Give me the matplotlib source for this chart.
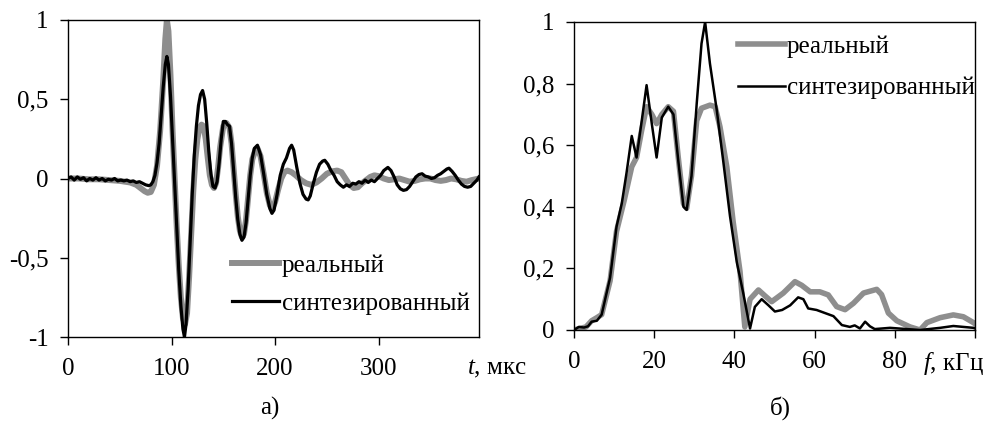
import matplotlib
matplotlib.use('Agg')
from matplotlib import pyplot as plt

# --- panel a): time signals (t in us) ---
t_real = [0, 10, 20, 30, 40, 50, 60, 66, 70, 74, 77, 80, 83, 86, 89, 92, 94, 95.5, 97, 99,
          101, 103, 105, 107, 109, 111, 113, 115, 117, 119, 121, 123, 125, 127, 129, 131, 133,
          135, 137, 139, 141, 143, 145, 147, 150, 153, 156, 158, 160, 162, 164, 166, 168, 170,
          172, 174, 176, 178, 181, 183, 186, 189, 192, 195, 197, 200, 203, 206, 209, 212, 216,
          220, 225, 230, 235, 240, 245, 250, 255, 260, 264, 268, 272, 276, 280, 284, 288, 292,
          296, 300, 305, 310, 315, 320, 325, 330, 335, 340, 345, 350, 355, 360, 365, 370, 375,
          380, 385, 390, 397]
v_real = [0.0, 0.0, -0.005, -0.005, -0.01, -0.015, -0.025, -0.04, -0.06, -0.08, -0.09, -0.085,
          -0.04, 0.08, 0.3, 0.62, 0.88, 1.0, 0.93, 0.65, 0.3, 0.0, -0.3, -0.55, -0.75, -0.88,
          -0.92, -0.85, -0.62, -0.35, -0.08, 0.12, 0.25, 0.32, 0.34, 0.33, 0.25, 0.13, 0.02,
          -0.04, -0.06, -0.03, 0.07, 0.2, 0.33, 0.35, 0.32, 0.22, 0.06, -0.1, -0.24, -0.33,
          -0.37, -0.35, -0.26, -0.12, 0.02, 0.12, 0.18, 0.19, 0.14, 0.03, -0.09, -0.17, -0.19,
          -0.15, -0.07, 0.0, 0.04, 0.05, 0.04, 0.02, -0.01, -0.03, -0.04, -0.025, 0.0, 0.03,
          0.045, 0.05, 0.04, 0.0, -0.04, -0.06, -0.055, -0.03, -0.01, 0.01, 0.02, 0.015, 0.0,
          -0.01, -0.005, 0.0, -0.01, -0.02, -0.015, -0.005, 0.0, 0.0, -0.01, -0.015, -0.01,
          0.0, -0.005, -0.015, -0.02, -0.01, 0.0]

t_synth = [0, 3, 6, 9, 12, 15, 18, 21, 24, 27, 30, 33, 36, 39, 42, 45, 48, 51, 54, 57, 60, 63,
           66, 69, 72, 75, 78, 80, 82, 84, 86, 88, 90, 92, 94, 95.5, 97, 99, 101, 103, 105, 107,
           109, 111, 112.5, 114, 116, 118, 120, 122, 124, 126, 128, 130, 132, 134, 136, 138,
           140, 142, 144, 146, 148, 150, 152, 154, 156, 158, 160, 162, 164, 166, 168, 170, 172,
           174, 176, 178, 180, 183, 186, 189, 192, 195, 197, 199, 202, 205, 208, 211, 214, 216,
           218, 221, 224, 227, 230, 232, 234, 237, 240, 243, 246, 248, 251, 254, 257, 260, 263,
           266, 269, 272, 275, 278, 281, 284, 287, 290, 293, 296, 299, 302, 305, 309, 312, 315,
           318, 321, 324, 327, 330, 333, 336, 339, 342, 345, 348, 351, 354, 357, 360, 363, 366,
           368, 371, 374, 377, 380, 383, 386, 389, 392, 395, 397]
v_synth = [0.0, 0.01, -0.01, 0.01, -0.005, 0.005, -0.015, 0.0, -0.01, 0.005, -0.01, 0.0, -0.015,
           -0.005, -0.01, 0.0, -0.015, -0.01, -0.015, -0.01, -0.02, -0.015, -0.025, -0.02,
           -0.03, -0.04, -0.045, -0.04, -0.02, 0.02, 0.1, 0.22, 0.4, 0.58, 0.72, 0.77, 0.72,
           0.52, 0.25, -0.02, -0.3, -0.58, -0.8, -0.95, -1.0, -0.92, -0.7, -0.4, -0.1, 0.15,
           0.33, 0.46, 0.53, 0.555, 0.5, 0.35, 0.17, 0.03, -0.05, -0.06, -0.02, 0.1, 0.25,
           0.36, 0.36, 0.34, 0.33, 0.22, 0.05, -0.12, -0.26, -0.35, -0.39, -0.37, -0.28, -0.13,
           0.02, 0.13, 0.19, 0.21, 0.15, 0.03, -0.1, -0.19, -0.22, -0.2, -0.1, 0.02, 0.09, 0.13,
           0.19, 0.21, 0.18, 0.07, -0.03, -0.1, -0.13, -0.135, -0.11, -0.03, 0.04, 0.09, 0.11,
           0.115, 0.09, 0.05, 0.02, -0.02, -0.04, -0.055, -0.04, -0.05, -0.03, -0.035, -0.02,
           -0.03, -0.01, -0.025, -0.01, -0.02, 0.0, 0.02, 0.05, 0.07, 0.05, 0.01, -0.04, -0.065,
           -0.075, -0.07, -0.05, -0.02, 0.01, 0.025, 0.03, 0.015, 0.01, 0.0, 0.005, 0.02, 0.03,
           0.045, 0.06, 0.065, 0.045, 0.02, -0.01, -0.035, -0.05, -0.055, -0.05, -0.03, -0.01,
           0.01]

# --- panel б): spectra (f in kHz) ---
f_real = [0, 1.5, 3, 4.4, 5.7, 6.9, 9, 10.6, 12.5, 14.4, 15.6, 16.9, 18.1, 19.4, 20.6, 21.9,
          23.5, 24.8, 26, 27.3, 28.1, 29.3, 30.6, 31.8, 33.9, 35.2, 36.4, 38.1, 39.7, 41.4, 42.6,
          43.9, 46, 47.7, 49.3, 52.2, 55.1, 56.8, 58.9, 61.3, 63.4, 65.5, 67.6, 69.7, 72.2, 75.5,
          76.7, 78.4, 80.5, 83.8, 86.3, 88, 91.3, 94.6, 97.1, 99.6, 100]
a_real = [0.0, 0.005, 0.01, 0.03, 0.04, 0.05, 0.16, 0.32, 0.42, 0.53, 0.56, 0.65, 0.725, 0.70,
          0.67, 0.70, 0.725, 0.71, 0.56, 0.41, 0.395, 0.50, 0.68, 0.72, 0.73, 0.725, 0.66, 0.53,
          0.35, 0.19, 0.01, 0.1, 0.13, 0.11, 0.092, 0.12, 0.157, 0.145, 0.124, 0.124, 0.114,
          0.076, 0.066, 0.087, 0.12, 0.132, 0.115, 0.055, 0.03, 0.01, 0.0, 0.024, 0.04, 0.049,
          0.043, 0.024, 0.02]

f_synth = [0, 1.2, 2.5, 3.5, 4.4, 5.7, 6.9, 9, 10.6, 11.9, 13.1, 14.4, 15.6, 16.9, 18.1, 19.4,
           20.6, 21.9, 23.5, 24.8, 26, 27.3, 28.1, 29.3, 30.6, 31.8, 32.7, 33.9, 35.6, 37.2, 38.9,
           40.6, 42.2, 43.9, 45.1, 46.8, 48.5, 50.1, 51.9, 53.9, 55.9, 57.2, 58.4, 60.5, 62.6,
           64.7, 66.8, 68.8, 70, 71.3, 72.6, 73.8, 75, 78.8, 83, 86.3, 91.3, 94.6, 99.6, 100]
a_synth = [0.0, 0.01, 0.008, 0.012, 0.027, 0.03, 0.05, 0.17, 0.335, 0.41, 0.51, 0.63, 0.56,
           0.68, 0.795, 0.67, 0.56, 0.69, 0.725, 0.70, 0.55, 0.40, 0.39, 0.50, 0.735, 0.93, 1.0,
           0.865, 0.714, 0.55, 0.37, 0.22, 0.12, 0.005, 0.075, 0.10, 0.08, 0.06, 0.065, 0.08,
           0.106, 0.10, 0.07, 0.065, 0.055, 0.045, 0.016, 0.01, 0.015, 0.005, 0.027, 0.012,
           0.003, 0.007, 0.003, 0.0, 0.007, 0.013, 0.007, 0.005]

labels = ['реальный', 'синтезированный']
GRAY = '#8e8e8e'

plt.rcParams['font.family'] = 'Liberation Serif'
plt.rcParams['mathtext.fontset'] = 'custom'
plt.rcParams['mathtext.rm'] = 'Liberation Serif'
plt.rcParams['mathtext.it'] = 'Liberation Serif:italic'
FS = 18

fig = plt.figure(figsize=(9.99, 4.28), dpi=100)
ax1 = fig.add_axes([68 / 999, 91 / 428, 411 / 999, 317 / 428])
ax2 = fig.add_axes([574 / 999, 98 / 428, 401 / 999, 308 / 428])

ax1.plot(t_real, v_real, color=GRAY, lw=4.3, label=labels[0], solid_joinstyle='round')
ax1.plot(t_synth, v_synth, color='black', lw=2.3, label=labels[1])
ax1.set_xlim(0, 397)
ax1.set_ylim(-1, 1)
ax1.set_xticks([0, 100, 200, 300])
ax1.set_yticks([-1, -0.5, 0, 0.5, 1], ['-1', '-0,5', '0', '0,5', '1'])
ax1.legend(loc='upper left', bbox_to_anchor=(0.40, 0.26), frameon=False, fontsize=FS,
           handlelength=1.85, handletextpad=0.12, labelspacing=0.6, borderpad=0, borderaxespad=0)
ax1.text(385, -1.2, '$t$, мкс', fontsize=FS, ha='left', va='center', clip_on=False)

ax2.plot(f_real, a_real, color=GRAY, lw=4.0, label=labels[0], solid_joinstyle='round')
ax2.plot(f_synth, a_synth, color='black', lw=1.8, label=labels[1])
ax2.set_xlim(0, 100)
ax2.set_ylim(0, 1)
ax2.set_xticks([0, 20, 40, 60, 80, 100], ['0', '20', '40', '60', '80', ''])
ax2.set_yticks([0, 0.2, 0.4, 0.6, 0.8, 1], ['0', '0,2', '0,4', '0,6', '0,8', '1'])
ax2.legend(loc='upper left', bbox_to_anchor=(0.41, 0.956), frameon=False, fontsize=FS,
           handlelength=1.85, handletextpad=0.08, labelspacing=0.75, borderpad=0, borderaxespad=0)
ax2.text(87, -0.11, '$f$, кГц', fontsize=FS, ha='left', va='center', clip_on=False)

for ax in (ax1, ax2):
    for sp in ax.spines.values():
        sp.set_linewidth(1.0)
    ax.tick_params(axis='y', direction='out', length=6, width=1.0, labelsize=FS, pad=8)
    ax.tick_params(axis='x', direction='out', length=6, width=1.0, labelsize=FS, pad=9)

fig.text(270 / 999, 1 - 408 / 428, 'а)', fontsize=FS, ha='center', va='center')
fig.text(780 / 999, 1 - 408 / 428, 'б)', fontsize=FS, ha='center', va='center')

fig.savefig('out.png', dpi=100)
